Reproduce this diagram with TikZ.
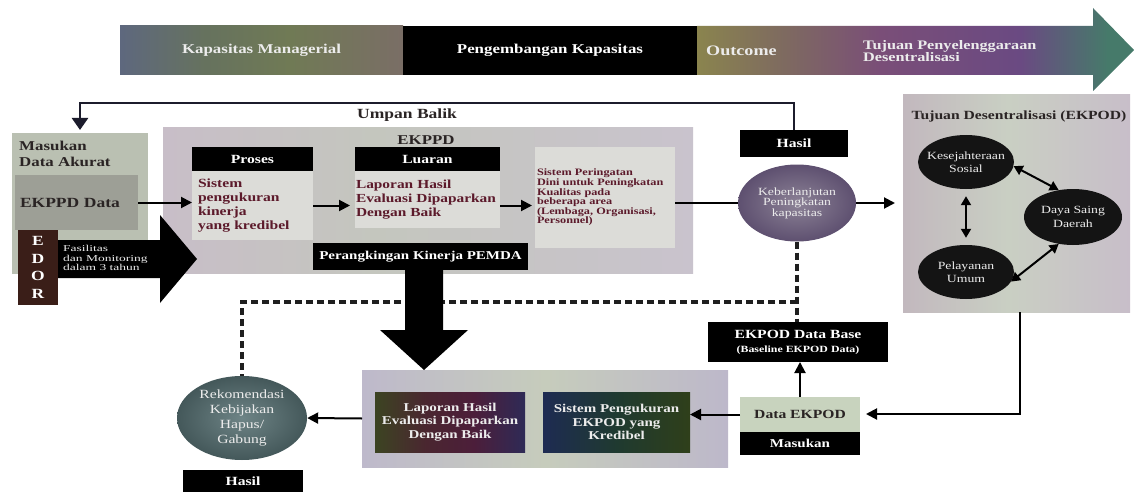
\documentclass[tikz,border=0pt]{standalone}
\usepackage{fontspec}
\setmainfont{Liberation Serif}[FakeStretch=1.25]
\newfontfamily\widefont{Liberation Serif}[FakeStretch=1.5]
\usetikzlibrary{arrows.meta,shapes.geometric}

\definecolor{km1}{HTML}{5E687E}
\definecolor{km2}{HTML}{66725E}
\definecolor{km3}{HTML}{707A55}
\definecolor{km4}{HTML}{7A6E66}
\definecolor{oc1}{HTML}{8A844E}
\definecolor{oc2}{HTML}{7E6A60}
\definecolor{oc3}{HTML}{7A4E78}
\definecolor{oc4}{HTML}{6A4A82}
\definecolor{oc5}{HTML}{467A6A}
\definecolor{ek1}{HTML}{C8BEC8}
\definecolor{ek2}{HTML}{C4C6BE}
\definecolor{ek3}{HTML}{C9C3CD}
\definecolor{tj1}{HTML}{C2B8BE}
\definecolor{tj2}{HTML}{C9CFC3}
\definecolor{tj3}{HTML}{C8BEC9}
\definecolor{bt1}{HTML}{BEB9CB}
\definecolor{bt2}{HTML}{C6CCBC}
\definecolor{bt3}{HTML}{BDB8CA}
\definecolor{lp1}{HTML}{3C4422}
\definecolor{lp2}{HTML}{4A2630}
\definecolor{lp3}{HTML}{4C1E3A}
\definecolor{lp4}{HTML}{2E2A56}
\definecolor{ss1}{HTML}{1E2B52}
\definecolor{ss2}{HTML}{1F3A30}
\definecolor{ss3}{HTML}{2F3F1A}
\definecolor{masuk}{HTML}{BAC0B2}
\definecolor{ekdata}{HTML}{9D9F96}
\definecolor{edor}{HTML}{3A1E18}
\definecolor{lightbox}{HTML}{DCDCD8}
\definecolor{maroon}{HTML}{5C1A2B}
\definecolor{darktxt}{HTML}{2A2424}
\definecolor{kbin}{HTML}{8C8296}
\definecolor{kbout}{HTML}{5E5070}
\definecolor{rkin}{HTML}{6E8486}
\definecolor{rkout}{HTML}{44585A}
\definecolor{dataek}{HTML}{C8D3BE}
\definecolor{ellblack}{HTML}{141414}
\definecolor{fbcol}{HTML}{1C1C2C}
\definecolor{paletxt}{HTML}{ECECEC}

\pgfdeclarehorizontalshading{kapshade}{100bp}{color(0bp)=(km1); color(25bp)=(km1); color(40bp)=(km2); color(55bp)=(km3); color(75bp)=(km4); color(100bp)=(km4)}
\pgfdeclarehorizontalshading{outshade}{100bp}{color(0bp)=(oc1); color(25bp)=(oc1); color(35bp)=(oc2); color(46bp)=(oc3); color(62bp)=(oc4); color(72bp)=(oc5); color(100bp)=(oc5)}
\pgfdeclarehorizontalshading{ekshade}{100bp}{color(0bp)=(ek1); color(25bp)=(ek1); color(45bp)=(ek2); color(75bp)=(ek3); color(100bp)=(ek3)}
\pgfdeclarehorizontalshading{tjshade}{100bp}{color(0bp)=(tj1); color(25bp)=(tj1); color(48bp)=(tj2); color(75bp)=(tj3); color(100bp)=(tj3)}
\pgfdeclarehorizontalshading{botshade}{100bp}{color(0bp)=(bt1); color(25bp)=(bt1); color(50bp)=(bt2); color(75bp)=(bt3); color(100bp)=(bt3)}
\pgfdeclarehorizontalshading{lapshade}{100bp}{color(0bp)=(lp1); color(25bp)=(lp1); color(42bp)=(lp2); color(58bp)=(lp3); color(75bp)=(lp4); color(100bp)=(lp4)}
\pgfdeclarehorizontalshading{sisshade}{100bp}{color(0bp)=(ss1); color(25bp)=(ss1); color(50bp)=(ss2); color(75bp)=(ss3); color(100bp)=(ss3)}

\newcommand{\fsz}[2]{\fontsize{#1}{#2}\selectfont}

\begin{document}
\begin{tikzpicture}[x=1pt,y=-1pt,
  box/.style={anchor=north west, inner sep=0pt, outer sep=0pt},
  blk/.style={box, fill=black, text=white},
  arr/.style={line width=2pt, -{Triangle[length=11pt,width=11pt]}},
  dbl/.style={line width=2pt, {Triangle[length=9pt,width=10pt]}-{Triangle[length=9pt,width=10pt]}},
  ln/.style={line width=2pt},
  fb/.style={line width=2.5pt, color=fbcol, -{Triangle[length=12pt,width=16pt]}},
  dsh/.style={line width=3.4pt, dash pattern=on 7pt off 4pt, color=black!88},
  ell/.style={ellipse, inner sep=0pt, text=paletxt, align=center},
  goal/.style={ell, fill=ellblack, inner xsep=-12pt, inner ysep=-3pt, font=\fsz{11}{13.5}},
]
\fill[white] (0,0) rectangle (1135,492);
\useasboundingbox (0,0) rectangle (1135,492);

% top band
\node[box, shade, shading=kapshade, minimum width=283, minimum height=49, text=paletxt, font=\bfseries\fsz{13.5}{15}] (km) at (120,26) {Kapasitas Managerial};
\node[blk, minimum width=294, minimum height=49, font=\bfseries\fsz{13.5}{15}] (pk) at (403,26) {Pengembangan Kapasitas};
\path[shade, shading=outshade] (697,26) -- (1093,26) -- (1093,8) -- (1134,50) -- (1093,91) -- (1093,75) -- (697,75) -- cycle;
\node[anchor=west, inner sep=0pt, text=paletxt, font=\bfseries\fsz{14.5}{15}] (oc) at (706,51) {Outcome};
\node[anchor=west, inner sep=0pt, align=left, text=paletxt, font=\bfseries\fsz{13}{12.5}] (tp) at (863,51) {Tujuan Penyelenggaraan\\Desentralisasi};

% EKPPD block (background)
\node[box, shade, shading=ekshade, minimum width=530, minimum height=145] (ekppd) at (163,128) {};

% left input
\node[box, fill=masuk, minimum width=136, minimum height=141] (masukan) at (12,133) {};
\node[anchor=north west, inner sep=0pt, align=left, text=darktxt, font=\bfseries\fsz{13.5}{16}] (mtxt) at (19,141) {Masukan\\Data Akurat};
\node[box, fill=ekdata, minimum width=123, minimum height=55, text width=113, inner xsep=5pt, align=left, text=darktxt, font=\bfseries\fsz{14}{16}] (ekppddata) at (15,175) {EKPPD Data};
\node[box, fill=edor, minimum width=40, minimum height=75, text=white, align=center, font=\bfseries\fsz{14}{17.5}] (edor) at (18,230) {E\\D\\O\\R};
\fill[black] (58,240) -- (160,240) -- (160,215) -- (197,259) -- (160,303) -- (160,278) -- (58,278) -- cycle;
\node[anchor=west, inner sep=0pt, align=left, text=paletxt, font=\widefont\fsz{9}{9.5}] (fas) at (63,258) {Fasilitas\\dan Monitoring\\dalam 3 tahun};

% EKPPD content
\node[text=darktxt, inner sep=0pt, font=\bfseries\fsz{13.5}{15}] (ekppdlbl) at (426,140) {EKPPD};
\node[anchor=west, inner sep=0pt, text=darktxt, font=\bfseries\fsz{14}{15}] (umpan) at (357,115) {Umpan Balik};
\node[blk, minimum width=121, minimum height=24, font=\bfseries\fsz{12.5}{14}] (proses) at (192,147) {Proses};
\node[box, fill=lightbox, minimum width=121, minimum height=69, text width=109, inner xsep=6pt, align=left, text=maroon, font=\bfseries\fsz{12.5}{14}] (sistem1) at (192,171) {Sistem\\pengukuran\\kinerja\\yang kredibel};
\node[blk, minimum width=145, minimum height=24, font=\bfseries\fsz{12.5}{14}] (luaran) at (355,147) {Luaran};
\node[box, fill=lightbox, minimum width=145, minimum height=57, text width=143, inner xsep=1pt, align=left, text=maroon, font=\bfseries\fsz{12.3}{14}] (laporan1) at (355,171) {Laporan Hasil\\Evaluasi Dipaparkan\\Dengan Baik};
\node[blk, minimum width=215, minimum height=27, font=\bfseries\fsz{12}{14}] (rank) at (313,243) {Perangkingan Kinerja PEMDA};
\node[box, fill=lightbox, minimum width=140, minimum height=101, text width=136, inner xsep=2pt, align=left, text=maroon, font=\bfseries\fsz{9.8}{9.6}] (peringatan) at (535,147) {Sistem Peringatan\\Dini untuk Peningkatan\\Kualitas pada\\beberapa area\\(Lembaga, Organisasi,\\Personnel)};

% outcome
\node[blk, minimum width=108, minimum height=27, font=\bfseries\fsz{12.5}{14}] (hasil1) at (740,130) {Hasil};
\node[ell, shade, inner color=kbin, outer color=kbout, minimum width=118, minimum height=77, font=\fsz{11}{10.5}] (kb) at (797,203) {Keberlanjutan\\Peningkatan\\kapasitas};

% goals
\node[box, shade, shading=tjshade, minimum width=227, minimum height=217] (tujuan) at (903,95) {};
\node[inner sep=0pt, text=darktxt, font=\bfseries\fsz{12.5}{14}] (tjlbl) at (1019,116) {Tujuan Desentralisasi (EKPOD)};
\node[goal, minimum width=96, minimum height=54] (ks) at (966,162) {Kesejahteraan\\Sosial};
\node[goal, minimum width=98, minimum height=56] (ds) at (1073,217) {Daya Saing\\Daerah};
\node[goal, minimum width=96, minimum height=54] (pu) at (966,272) {Pelayanan\\Umum};
\draw[dbl] (ks.-5) -- (ds.118);
\draw[dbl, shorten <=7pt, shorten >=7pt] (ks.south) -- (pu.north);
\draw[dbl] (pu.-12) -- (ds.-118);

% bottom row
\node[blk, minimum width=180, minimum height=40, align=center, font=\bfseries\fsz{12.5}{14}] (ekpoddb) at (708,322) {EKPOD Data Base\\{\fsz{9.5}{11}(Baseline EKPOD Data)}};
\node[box, fill=dataek, minimum width=120, minimum height=35, text=darktxt, font=\bfseries\fsz{12.5}{14}] (dataekpod) at (740,397) {Data EKPOD};
\node[blk, minimum width=120, minimum height=23, font=\bfseries\fsz{12}{14}] (masukan2) at (740,432) {Masukan};
\node[box, shade, shading=botshade, minimum width=366, minimum height=97] (botbox) at (362,370) {};
\node[box, shade, shading=lapshade, minimum width=150, minimum height=60, text=paletxt, align=center, font=\bfseries\fsz{12}{13.5}] (laporan2) at (375,392) {Laporan Hasil\\Evaluasi Dipaparkan\\Dengan Baik};
\node[box, shade, shading=sisshade, minimum width=147, minimum height=60, text=paletxt, align=center, font=\bfseries\fsz{12}{13.5}] (sistem2) at (543,392) {Sistem Pengukuran\\EKPOD yang\\Kredibel};
\node[ell, shade, inner color=rkin, outer color=rkout, minimum width=130, minimum height=84, font=\fsz{12.5}{15}] (rek) at (242,418) {Rekomendasi\\Kebijakan\\Hapus/\\Gabung};
\node[blk, minimum width=120, minimum height=22, font=\bfseries\fsz{12.5}{14}] (hasil2) at (183,470) {Hasil};

% connectors
\coordinate (fbL) at (80,103);
\draw[fb, shorten >=3pt] (hasil1.north) -- (hasil1.north |- fbL) -- (fbL) -- (fbL |- masukan.north);
\draw[arr] (ekppddata.east) -- (ekppddata.east -| sistem1.west);
\draw[arr, shorten >=5pt] (sistem1.east) -- (sistem1.east -| laporan1.west);
\draw[arr, shorten >=3pt] (sistem1.east -| laporan1.east) -- (sistem1.east -| peringatan.west);
\draw[ln] (peringatan.east |- kb.west) -- (kb.west);
\draw[arr, shorten >=8pt] (kb.east) -- (kb.east -| tujuan.west);
\coordinate (rb) at (1020,414);
\draw[arr, shorten >=6pt] (tujuan.south -| rb) -- (rb) -- (rb -| dataekpod.east);
\draw[arr] (dataekpod.north) -- (dataekpod.north |- ekpoddb.south);
\draw[arr] (dataekpod.west) -- (dataekpod.west -| sistem2.east);
\draw[arr] (botbox.west) -- (rek.east);
\coordinate (dj) at (797,302);
\draw[dsh] (kb.south) -- (kb.south |- ekpoddb.north);
\draw[dsh] (kb.south |- dj) -- (dj -| rek.north) -- (rek.north);
\fill[black] (405,270) -- (405,330) -- (380,330) -- (424,370) -- (468,330) -- (443,330) -- (443,270) -- cycle;
\end{tikzpicture}
\end{document}
